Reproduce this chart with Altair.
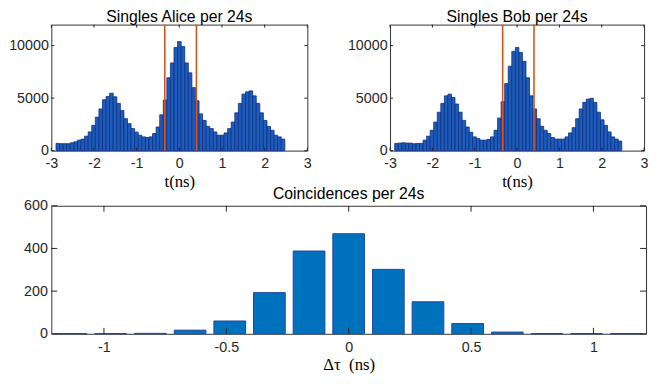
import altair as alt
import pandas as pd

# ---------------- data ----------------
bin_start = -2.89
bin_width = 0.0838
alice_counts = [690, 660, 660, 660, 750, 840, 1000, 1100, 1380, 1780, 2410, 3190, 3970, 4850, 5160, 5470,
                5130, 4500, 3820, 3040, 2570, 2100, 1760,
                1470, 1310, 1250, 1310, 1630, 2250, 3410, 4820, 6940, 8350, 9820, 10380, 9910, 8350, 7410,
                6000, 4750, 3500, 2880, 2310, 2100, 1780,
                1470, 1470, 1690, 2100, 2720, 3600, 4500, 5380, 5600, 5690, 5220, 4500, 3600, 2880, 2310,
                1940, 1470, 1310, 1100]
bob_counts = [690, 720, 750, 720, 720, 660, 690, 690, 1000, 1380, 1940, 2720, 3660, 4500, 5220, 5380,
              5060, 4440, 3660, 2880, 2250, 1750,
              1310, 1160, 1000, 1000, 1070, 1310, 1940, 3100, 4660, 6380, 8040, 9450, 9820, 9350, 8510,
              6940, 5220, 3970, 3040, 2320, 1940, 1630,
              1250, 1100, 1100, 1100, 1310, 1690, 2190, 3040, 3970, 4600, 4910, 4980, 4600, 3660, 2940,
              2410, 1780, 1310, 1100, 910]
window_edges = [-0.34, 0.40]
t_ticks = [-3, -2, -1, 0, 1, 2, 3]
singles_ticks = [0, 5000, 10000]

dtau_centers = [-1.134, -0.972, -0.810, -0.648, -0.486, -0.324, -0.162, 0.0,
                0.162, 0.324, 0.486, 0.648, 0.810, 0.972, 1.134]
coincidences = [1, 1, 2, 17, 60, 193, 388, 469, 302, 150, 48, 8, 1, 1, 1]
bar_half_width = 0.0648
dtau_ticks = [-1, -0.5, 0, 0.5, 1]
coinc_ticks = [0, 200, 400, 600]

# ---------------- style ----------------
FONT = "Liberation Sans"
SERIF = "Liberation Serif"
INK = "#262626"
RED = "#D95319"
LABEL_EXPR = "'' + datum.value"


def x_axis(values, title, label_pad, title_y):
    return alt.Axis(values=values, title=title, labelExpr=LABEL_EXPR, ticks=False, tickSize=0,
                    domain=False, grid=False, labelPadding=label_pad, labelFlush=False,
                    labelOverlap=False, labelFont=FONT, labelFontSize=14.5, labelColor=INK,
                    titleFont=SERIF, titleFontSize=17, titleFontWeight="normal", titleColor="black",
                    titleY=title_y, titleBaseline="middle")


def y_axis(values, label_pad):
    return alt.Axis(values=values, title=None, labelExpr=LABEL_EXPR, ticks=False, tickSize=0,
                    domain=False, grid=False, labelPadding=label_pad, labelOverlap=False,
                    labelFlush=False, labelFont=FONT, labelFontSize=14.5, labelColor=INK)


def tick_layers(xname, yname, xs, ys, xax, yax, xvals, yvals, w, h, L):
    xdf = pd.DataFrame({xname: xvals})
    ydf = pd.DataFrame({yname: yvals})
    bx = alt.Chart(xdf).mark_rule(color=INK, strokeWidth=1)
    by = alt.Chart(ydf).mark_rule(color=INK, strokeWidth=1)
    xe = alt.X(f"{xname}:Q", scale=xs, axis=xax)
    ye = alt.Y(f"{yname}:Q", scale=ys, axis=yax)
    return [
        bx.encode(x=xe, y=alt.value(h), y2=alt.value(h - L)),
        bx.encode(x=xe, y=alt.value(0), y2=alt.value(L)),
        by.encode(y=ye, x=alt.value(0), x2=alt.value(L)),
        by.encode(y=ye, x=alt.value(w), x2=alt.value(w - L)),
    ]


def title(text, offset):
    return alt.TitleParams(text=text, font=FONT, fontSize=16, fontWeight="normal", color="black",
                           anchor="middle", offset=offset)


def singles_panel(counts, name, w, h):
    n = len(counts)
    df = pd.DataFrame({
        "t0": [bin_start + i * bin_width for i in range(n)],
        "t1": [bin_start + (i + 1) * bin_width for i in range(n)],
        "n": counts,
    })
    xs = alt.Scale(domain=[-3, 3], nice=False, zero=False)
    ys = alt.Scale(domain=[0, 12000], nice=False, zero=False)
    xax = x_axis(t_ticks, "t(ns)", 6, 31)
    yax = y_axis(singles_ticks, 3)
    bars = alt.Chart(df).mark_rect(fill="#1d5cb8", stroke="#0d2f86", strokeWidth=0.8).encode(
        x=alt.X("t0:Q", scale=xs, axis=xax),
        x2="t1",
        y=alt.Y("n:Q", scale=ys, axis=yax),
        y2=alt.datum(0),
    )
    red = alt.Chart(pd.DataFrame({"t0": window_edges})).mark_rule(color=RED, strokeWidth=1.6).encode(
        x=alt.X("t0:Q", scale=xs, axis=xax)
    )
    layers = [bars, red] + tick_layers("t0", "n", xs, ys, xax, yax, t_ticks, singles_ticks, w, h, 3)
    return alt.layer(*layers).properties(width=w, height=h, title=title(name, -1))


def coinc_panel(w, h):
    df = pd.DataFrame({
        "d0": [c - bar_half_width for c in dtau_centers],
        "d1": [c + bar_half_width for c in dtau_centers],
        "c": coincidences,
    })
    xs = alt.Scale(domain=[-1.215, 1.215], nice=False, zero=False)
    ys = alt.Scale(domain=[0, 600], nice=False, zero=False)
    xax = x_axis(dtau_ticks, "Δτ \u00a0(ns)", 7, 31)
    yax = y_axis(coinc_ticks, 4)
    bars = alt.Chart(df).mark_rect(fill="#0072BD", stroke="#23479e", strokeWidth=1).encode(
        x=alt.X("d0:Q", scale=xs, axis=xax),
        x2="d1",
        y=alt.Y("c:Q", scale=ys, axis=yax),
        y2=alt.datum(0),
    )
    layers = [bars] + tick_layers("d0", "c", xs, ys, xax, yax, dtau_ticks, coinc_ticks, w, h, 6)
    return alt.layer(*layers).properties(width=w, height=h, title=title("Coincidences per 24s", -4))


alice = singles_panel(alice_counts, "Singles Alice per 24s", 260, 128)
bob = singles_panel(bob_counts, "Singles Bob per 24s", 258, 128)
coinc = coinc_panel(604, 130)

top_row = alt.hconcat(alice, bob, spacing=35)
chart = alt.vconcat(top_row, coinc, spacing=-5).properties(
    padding={"left": 0, "right": 0, "top": -3, "bottom": 0}
).configure_view(stroke="#333333", strokeWidth=1)

chart.save("out.html", embed_options={"renderer": "svg", "actions": False})
